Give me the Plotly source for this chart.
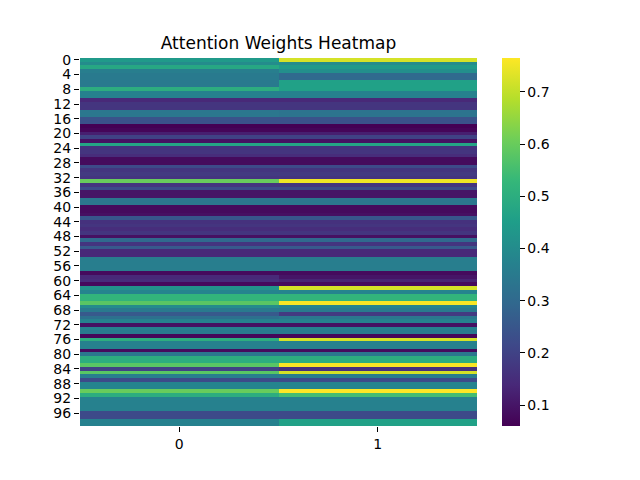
import plotly.graph_objects as go
import numpy as np

# attention weights, one value per row for each of the two heads/columns
col_0 = [0.44, 0.40, 0.48, 0.36, 0.35, 0.35, 0.35, 0.35, 0.50, 0.37,
         0.37, 0.14, 0.17, 0.17, 0.34, 0.34, 0.24, 0.24, 0.06, 0.07,
         0.12, 0.20, 0.09, 0.47, 0.16, 0.17, 0.15, 0.08, 0.08, 0.22,
         0.17, 0.18, 0.17, 0.60, 0.17, 0.22, 0.10, 0.10, 0.34, 0.34,
         0.08, 0.08, 0.09, 0.25, 0.16, 0.17, 0.15, 0.17, 0.09, 0.30,
         0.17, 0.26, 0.14, 0.14, 0.36, 0.36, 0.36, 0.36, 0.08, 0.14,
         0.15, 0.08, 0.42, 0.38, 0.52, 0.52, 0.58, 0.40, 0.35, 0.26,
         0.32, 0.37, 0.09, 0.37, 0.35, 0.07, 0.50, 0.37, 0.37, 0.08,
         0.34, 0.50, 0.50, 0.58, 0.20, 0.58, 0.36, 0.22, 0.38, 0.38,
         0.60, 0.50, 0.37, 0.37, 0.37, 0.37, 0.22, 0.22, 0.37, 0.37]
col_1 = [0.72, 0.40, 0.44, 0.41, 0.30, 0.30, 0.46, 0.46, 0.46, 0.37,
         0.37, 0.14, 0.17, 0.17, 0.33, 0.33, 0.24, 0.24, 0.06, 0.07,
         0.12, 0.20, 0.09, 0.47, 0.16, 0.17, 0.15, 0.08, 0.08, 0.22,
         0.17, 0.18, 0.17, 0.75, 0.17, 0.22, 0.10, 0.10, 0.34, 0.34,
         0.08, 0.08, 0.09, 0.25, 0.16, 0.17, 0.15, 0.17, 0.09, 0.30,
         0.17, 0.26, 0.14, 0.14, 0.36, 0.36, 0.36, 0.36, 0.08, 0.10,
         0.13, 0.08, 0.72, 0.38, 0.52, 0.52, 0.76, 0.38, 0.35, 0.18,
         0.34, 0.37, 0.09, 0.37, 0.35, 0.07, 0.72, 0.37, 0.37, 0.08,
         0.34, 0.50, 0.50, 0.76, 0.16, 0.72, 0.36, 0.22, 0.38, 0.38,
         0.765, 0.55, 0.37, 0.37, 0.37, 0.37, 0.22, 0.22, 0.46, 0.46]
columns = [0, 1]
rows = list(range(100))
row_ticks = list(range(0, 100, 4))
cbar_ticks = [0.1, 0.2, 0.3, 0.4, 0.5, 0.6, 0.7]

z = np.column_stack([col_0, col_1])

fig = go.Figure()
fig.add_trace(go.Heatmap(
    z=z, x=columns, y=rows,
    colorscale="Viridis",
    zmin=z.min(), zmax=z.max(),
    colorbar=dict(
        thickness=18, len=1, lenmode="fraction", y=0.5, yanchor="middle",
        x=1.063, xanchor="left", xpad=0, ypad=0, outlinewidth=0,
        tickvals=cbar_ticks, ticks="outside", ticklen=5, tickcolor="black",
        tickfont=dict(size=14, color="black"),
    ),
))

# the page body adds an 8px offset, so margins are shifted by that much
fig.update_layout(
    width=640, height=480,
    margin=dict(l=72, r=171, t=50, b=62),
    paper_bgcolor="white", plot_bgcolor="white",
    font=dict(family="DejaVu Sans", color="black"),
    title=dict(text="Attention Weights Heatmap", x=0.5, xref="paper",
               xanchor="center", y=1 - 35 / 480, yref="container",
               yanchor="middle", font=dict(size=17, color="black")),
)
fig.update_xaxes(tickvals=columns, ticks="outside", ticklen=5, tickcolor="black",
                 tickfont=dict(size=14), showgrid=False, zeroline=False,
                 showline=False)
fig.update_yaxes(tickvals=row_ticks, autorange="reversed", ticks="outside",
                 ticklen=5, tickcolor="black", tickfont=dict(size=14),
                 showgrid=False, zeroline=False, showline=False)

fig.write_html("out.html")
